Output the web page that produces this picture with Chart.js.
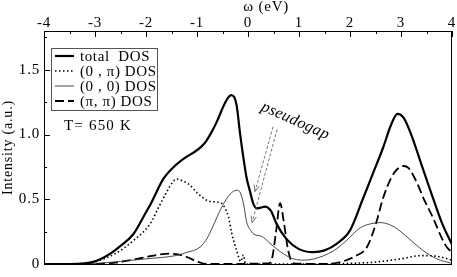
<!DOCTYPE html>
<html>
<head>
<meta charset="utf-8">
<script src="https://cdn.jsdelivr.net/npm/chart.js@4.4.1/dist/chart.umd.min.js"></script>
<style>
  html, body { margin: 0; padding: 0; background: #fff; }
  #wrap { width: 457px; height: 277px; }
</style>
</head>
<body>
<div id="wrap"><canvas id="dosChart" width="457" height="277"></canvas></div>
<script>
// values (omega in eV, intensity in a.u.)
const totalX = [-4, -3.5, -3.2, -3.0, -2.7, -2.5, -2.25, -2.0, -1.9, -1.66, -1.4, -1.2, -1.05, -0.92, -0.82, -0.72, -0.61, -0.48, -0.4, -0.33, -0.27, -0.22, -0.16, -0.09, -0.03, 0.04, 0.1, 0.17, 0.25, 0.33, 0.45, 0.56, 0.76, 1.0, 1.28, 1.5, 1.75, 2.0, 2.25, 2.45, 2.65, 2.8, 2.93, 3.05, 3.2, 3.4, 3.6, 3.8, 4.0];
const totalY = [0, 0, 0.005, 0.02, 0.08, 0.14, 0.23, 0.40, 0.47, 0.657, 0.77, 0.83, 0.865, 0.905, 0.95, 1.015, 1.10, 1.22, 1.28, 1.305, 1.29, 1.22, 1.02, 0.82, 0.67, 0.56, 0.47, 0.43, 0.435, 0.443, 0.41, 0.31, 0.19, 0.115, 0.092, 0.105, 0.16, 0.26, 0.5, 0.7, 0.9, 1.07, 1.16, 1.13, 1.0, 0.77, 0.54, 0.32, 0.15];

const zeroPiX = [-4, -3.2, -2.9, -2.6, -2.25, -1.92, -1.75, -1.59, -1.48, -1.4, -1.3, -1.14, -1.0, -0.8, -0.65, -0.52, -0.45, -0.38, -0.32, -0.22, -0.14, -0.09, -0.05, 0.0, 1.5, 2.0, 2.5, 3.0, 3.4, 3.7, 4.0];
const zeroPiY = [0, 0.005, 0.03, 0.08, 0.18, 0.31, 0.44, 0.56, 0.63, 0.657, 0.645, 0.61, 0.55, 0.49, 0.48, 0.47, 0.43, 0.36, 0.24, 0.10, 0.02, 0.07, 0.0, 0.0, 0.0, 0.005, 0.015, 0.04, 0.065, 0.06, 0.03];

const zeroZeroX = [-4, -3.0, -2.5, -2.25, -2.0, -1.7, -1.4, -1.2, -0.94, -0.8, -0.7, -0.61, -0.5, -0.35, -0.22, -0.15, -0.08, -0.03, 0.05, 0.14, 0.26, 0.35, 0.43, 0.55, 0.69, 0.85, 1.05, 1.3, 1.67, 1.9, 2.2, 2.4, 2.59, 2.8, 2.98, 3.2, 3.43, 3.7, 4.0];
const zeroZeroY = [0, 0.005, 0.02, 0.03, 0.04, 0.05, 0.066, 0.09, 0.13, 0.2, 0.28, 0.36, 0.45, 0.54, 0.57, 0.55, 0.45, 0.33, 0.26, 0.225, 0.215, 0.19, 0.16, 0.12, 0.08, 0.045, 0.03, 0.04, 0.1, 0.17, 0.28, 0.31, 0.32, 0.3, 0.255, 0.18, 0.105, 0.04, 0.005];

const piPiX = [-4, -3.0, -2.6, -2.3, -1.99, -1.75, -1.53, -1.35, -1.2, -1.0, -0.81, 0.4, 0.47, 0.55, 0.63, 0.7, 0.79, 0.89, 1.5, 1.86, 2.1, 2.33, 2.5, 2.65, 2.8, 2.92, 3.05, 3.15, 3.31, 3.45, 3.63, 3.8, 3.9, 4.0];
const piPiY = [0, 0, 0.01, 0.03, 0.054, 0.072, 0.08, 0.072, 0.054, 0.02, 0, 0.005, 0.04, 0.25, 0.47, 0.33, 0.1, 0.005, 0, 0.02, 0.06, 0.13, 0.3, 0.51, 0.66, 0.73, 0.757, 0.74, 0.63, 0.5, 0.355, 0.2, 0.13, 0.09];

const seriesNames = ['total  DOS', '(0 , \u03c0) DOS', '(0 , 0) DOS', '(\u03c0, \u03c0) DOS'];
const yTickValues = [0, 0.5, 1, 1.5];

const serif = 'Liberation Serif';

function pts(xs, ys) {
    return xs.map((x, i) => ({ x: x, y: ys[i] }));
}

// the original lettering is set wide, so spread the axis text a little
const wideText = {
    id: 'wideText',
    beforeDraw(chart) { chart.ctx.letterSpacing = '0.8px'; },
    afterDatasetsDraw(chart) { chart.ctx.letterSpacing = '0px'; }
};

// frame, inward ticks, boxed legend and the pseudogap note
const extras = {
    id: 'extras',
    afterDraw(chart) {
        const ctx = chart.ctx;
        const a = chart.chartArea;
        const xs = chart.scales.x;
        const ys = chart.scales.y;
        ctx.save();
        ctx.letterSpacing = '0px';
        ctx.strokeStyle = '#000';
        ctx.lineWidth = 1;
        ctx.strokeRect(a.left + 0.5, a.top + 0.5, a.right - a.left - 1, a.bottom - a.top);

        // ticks on top axis
        ctx.beginPath();
        for (let v = -4; v <= 4.001; v += 0.5) {
            const px = Math.round(xs.getPixelForValue(v)) + 0.5;
            const len = Number.isInteger(v) ? 6 : 3;
            ctx.moveTo(px, a.top);
            ctx.lineTo(px, a.top + len);
        }
        // ticks on left axis
        for (let v = 0; v <= 1.76; v += 0.25) {
            const py = Math.round(ys.getPixelForValue(v)) + 0.5;
            const len = (Math.round(v * 4) % 2 === 0) ? 6 : 3;
            ctx.moveTo(a.left, py);
            ctx.lineTo(a.left + len, py);
        }
        ctx.stroke();

        // legend box
        const bx = 51.5, by = 48.5, bw = 106, bh = 62;
        ctx.fillStyle = '#fff';
        ctx.fillRect(bx, by, bw, bh);
        ctx.strokeStyle = '#555';
        ctx.strokeRect(bx, by, bw, bh);
        ctx.textBaseline = 'middle';
        ctx.fillStyle = '#000';
        chart.data.datasets.forEach((ds, i) => {
            const ly = 56 + i * 15;
            ctx.beginPath();
            ctx.strokeStyle = ds.borderColor;
            ctx.lineWidth = ds.borderWidth;
            ctx.setLineDash(ds.borderDash || []);
            ctx.moveTo(55, ly);
            ctx.lineTo(74, ly);
            ctx.stroke();
            ctx.setLineDash([]);
            ctx.font = '15px "' + serif + '"';
            ctx.letterSpacing = '0.6px';
            ctx.fillText(ds.label, 80, ly + 1);
            ctx.letterSpacing = '0px';
        });

        ctx.font = '15px "' + serif + '"';
        ctx.letterSpacing = '1.2px';
        ctx.fillText('T= 650 K', 64, 126);
        ctx.letterSpacing = '0px';

        // pseudogap arrows, anchored in data coordinates
        const arrows = [[0.49, 1.06, 0.137, 0.56], [0.57, 1.04, 0.08, 0.32]];
        ctx.strokeStyle = '#666';
        ctx.lineWidth = 0.9;
        arrows.forEach(r => {
            const x0 = xs.getPixelForValue(r[0]), y0 = ys.getPixelForValue(r[1]);
            const x1 = xs.getPixelForValue(r[2]), y1 = ys.getPixelForValue(r[3]);
            ctx.setLineDash([3, 2]);
            ctx.beginPath();
            ctx.moveTo(x0, y0);
            ctx.lineTo(x1, y1);
            ctx.stroke();
            ctx.setLineDash([]);
            const ang = Math.atan2(y1 - y0, x1 - x0);
            ctx.beginPath();
            ctx.moveTo(x1 - 7 * Math.cos(ang - 0.4), y1 - 7 * Math.sin(ang - 0.4));
            ctx.lineTo(x1, y1);
            ctx.lineTo(x1 - 7 * Math.cos(ang + 0.4), y1 - 7 * Math.sin(ang + 0.4));
            ctx.stroke();
        });

        ctx.translate(xs.getPixelForValue(0.24), ys.getPixelForValue(1.19));
        ctx.rotate(24 * Math.PI / 180);
        ctx.font = 'italic 16px "' + serif + '"';
        ctx.letterSpacing = '0.4px';
        ctx.textBaseline = 'alphabetic';
        ctx.fillStyle = '#000';
        ctx.fillText('pseudogap', 0, 0);
        ctx.restore();
    }
};

const ctx = document.getElementById('dosChart').getContext('2d');
new Chart(ctx, {
    type: 'line',
    data: {
        datasets: [{
            label: seriesNames[0],
            data: pts(totalX, totalY),
            borderColor: '#000',
            borderWidth: 2.2
        }, {
            label: seriesNames[1],
            data: pts(zeroPiX, zeroPiY),
            borderColor: '#000',
            borderWidth: 1.6,
            borderDash: [1.5, 2.5]
        }, {
            label: seriesNames[2],
            data: pts(zeroZeroX, zeroZeroY),
            borderColor: '#333',
            borderWidth: 0.9
        }, {
            label: seriesNames[3],
            data: pts(piPiX, piPiY),
            borderColor: '#000',
            borderWidth: 1.8,
            borderDash: [9, 4]
        }]
    },
    options: {
        responsive: false,
        animation: false,
        devicePixelRatio: 1,
        layout: { padding: { right: 5, bottom: 6.5 } },
        datasets: {
            line: {
                pointRadius: 0,
                fill: false,
                cubicInterpolationMode: 'monotone'
            }
        },
        plugins: {
            legend: { display: false },
            tooltip: { enabled: false }
        },
        scales: {
            x: {
                type: 'linear',
                position: 'top',
                min: -4,
                max: 4,
                ticks: {
                    stepSize: 1,
                    maxRotation: 0,
                    padding: 0,
                    color: '#000',
                    font: { family: serif, size: 15, lineHeight: 1 }
                },
                grid: { display: false, drawTicks: false, tickLength: 0 },
                border: { display: false },
                title: {
                    display: true,
                    text: '        \u03c9 (eV)',
                    color: '#000',
                    padding: { top: 0, bottom: 0 },
                    font: { family: serif, size: 15, lineHeight: 1 }
                },
                afterFit: function(scale) { scale.height = 31; }
            },
            y: {
                min: 0,
                max: 1.8,
                afterBuildTicks: function(scale) {
                    scale.ticks = yTickValues.map(v => ({ value: v }));
                },
                ticks: {
                    padding: 4,
                    color: '#000',
                    font: { family: serif, size: 15 }
                },
                grid: { display: false, drawTicks: false, tickLength: 0 },
                border: { display: false },
                title: {
                    display: true,
                    text: 'Intensity (a.u.)',
                    color: '#000',
                    padding: { top: 0, bottom: 0 },
                    font: { family: serif, size: 14 }
                },
                afterFit: function(scale) { scale.width = 44; }
            }
        }
    },
    plugins: [wideText, extras]
});
</script>
</body>
</html>
